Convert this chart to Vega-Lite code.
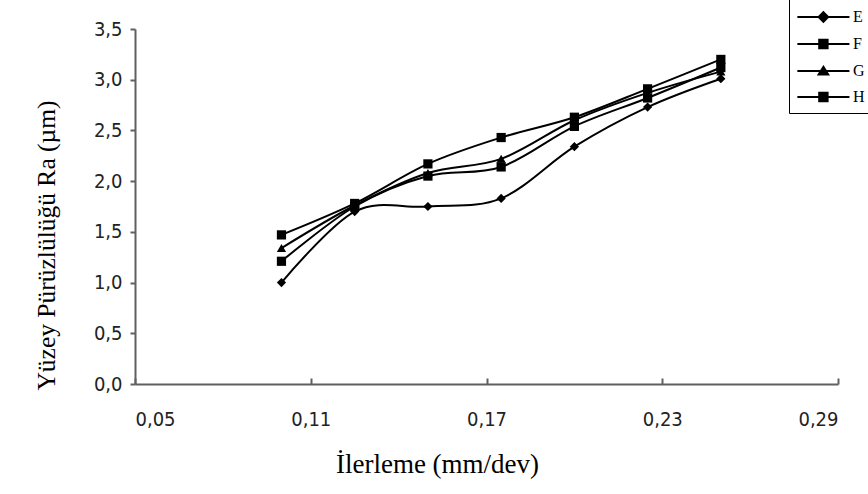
{
  "$schema": "https://vega.github.io/schema/vega-lite/v6.json",
  "width": 703,
  "height": 355,
  "autosize": "none",
  "padding": {"left": 135, "top": 29, "right": 30, "bottom": 110},
  "background": "white",
  "config": {"view": {"stroke": null}, "font": "Liberation Serif"},
  "data": {
    "values": [
      {"f": 0.1, "ra": 1.00, "s": "E"},
      {"f": 0.125, "ra": 1.70, "s": "E"},
      {"f": 0.15, "ra": 1.75, "s": "E"},
      {"f": 0.175, "ra": 1.83, "s": "E"},
      {"f": 0.2, "ra": 2.34, "s": "E"},
      {"f": 0.225, "ra": 2.73, "s": "E"},
      {"f": 0.25, "ra": 3.01, "s": "E"},
      {"f": 0.1, "ra": 1.21, "s": "F"},
      {"f": 0.125, "ra": 1.75, "s": "F"},
      {"f": 0.15, "ra": 2.05, "s": "F"},
      {"f": 0.175, "ra": 2.14, "s": "F"},
      {"f": 0.2, "ra": 2.54, "s": "F"},
      {"f": 0.225, "ra": 2.82, "s": "F"},
      {"f": 0.25, "ra": 3.12, "s": "F"},
      {"f": 0.1, "ra": 1.34, "s": "G"},
      {"f": 0.125, "ra": 1.76, "s": "G"},
      {"f": 0.15, "ra": 2.08, "s": "G"},
      {"f": 0.175, "ra": 2.22, "s": "G"},
      {"f": 0.2, "ra": 2.60, "s": "G"},
      {"f": 0.225, "ra": 2.87, "s": "G"},
      {"f": 0.25, "ra": 3.08, "s": "G"},
      {"f": 0.1, "ra": 1.47, "s": "H"},
      {"f": 0.125, "ra": 1.78, "s": "H"},
      {"f": 0.15, "ra": 2.17, "s": "H"},
      {"f": 0.175, "ra": 2.43, "s": "H"},
      {"f": 0.2, "ra": 2.63, "s": "H"},
      {"f": 0.225, "ra": 2.91, "s": "H"},
      {"f": 0.25, "ra": 3.20, "s": "H"}
    ]
  },
  "encoding": {
    "x": {
      "field": "f", "type": "quantitative",
      "scale": {"domain": [0.05, 0.29], "nice": false, "zero": false},
      "axis": {
        "values": [0.05, 0.11, 0.17, 0.23, 0.29],
        "labelExpr": "replace(format(datum.value, '.2f'), '.', ',')",
        "grid": false,
        "domainColor": "#606060", "domainWidth": 2,
        "tickColor": "#606060", "tickWidth": 2, "tickSize": -6,
        "labelFont": "Liberation Sans Narrow, DejaVu Sans Condensed, Liberation Sans", "labelFontSize": 20, "labelColor": "#222222",
        "labelPadding": 31,
        "title": "İlerleme (mm/dev)",
        "titleFont": "Liberation Serif", "titleFontSize": 27, "titleFontWeight": "normal", "titleColor": "#000000",
        "titleX": 302, "titleY": 80, "titleAlign": "center", "titleBaseline": "middle"
      }
    },
    "y": {
      "field": "ra", "type": "quantitative",
      "scale": {"domain": [0, 3.5], "nice": false},
      "axis": {
        "values": [0, 0.5, 1, 1.5, 2, 2.5, 3, 3.5],
        "labelExpr": "replace(format(datum.value, '.1f'), '.', ',')",
        "grid": false,
        "domainColor": "#606060", "domainWidth": 2,
        "tickColor": "#606060", "tickWidth": 2, "tickSize": 5,
        "labelFont": "Liberation Sans Narrow, DejaVu Sans Condensed, Liberation Sans", "labelFontSize": 20, "labelColor": "#222222",
        "labelPadding": 8,
        "title": "Yüzey Pürüzlülüğü Ra (µm)",
        "titleFont": "Liberation Serif", "titleFontSize": 25.5, "titleFontWeight": "normal", "titleColor": "#000000",
        "titleX": -89, "titleY": 216, "titleAngle": -90, "titleAlign": "center", "titleBaseline": "middle"
      }
    }
  },
  "layer": [
    {
      "mark": {"type": "line", "interpolate": "cardinal", "color": "black", "strokeWidth": 2},
      "encoding": {"detail": {"field": "s"}}
    },
    {
      "mark": {"type": "point", "filled": true, "color": "black", "opacity": 1, "size": 85},
      "encoding": {
        "shape": {
          "field": "s",
          "scale": {"domain": ["E", "F", "G", "H"], "range": ["diamond", "square", "triangle-up", "square"]},
          "legend": null
        }
      }
    },
    {
      "mark": {"type": "point", "filled": false, "color": "black", "opacity": 0, "size": 576, "strokeWidth": 2},
      "encoding": {
        "shape": {
          "field": "s",
          "scale": {
            "domain": ["E", "F", "G", "H"],
            "range": [
              "M-0.97,0H3.37M1.2,-0.4L1.6,0L1.2,0.4L0.8,0ZM1.2,-0.25L1.45,0L1.2,0.25L0.95,0ZM1.2,-0.1L1.3,0L1.2,0.1L1.1,0Z",
              "M-0.97,0H3.37M0.85,-0.35H1.55V0.35H0.85ZM1.0,-0.2H1.4V0.2H1.0ZM1.15,-0.05H1.25V0.05H1.15Z",
              "M-0.97,0H3.37M1.2,-0.35L1.6,0.3H0.8ZM1.2,-0.133L1.4,0.192H1.0ZM1.2,0.018L1.26,0.116H1.14Z",
              "M-0.97,0H3.37M0.85,-0.35H1.55V0.35H0.85ZM1.0,-0.2H1.4V0.2H1.0ZM1.15,-0.05H1.25V0.05H1.15Z"
            ]
          },
          "legend": {
            "title": null,
            "orient": "none",
            "legendX": 654,
            "legendY": -32,
            "padding": 7,
            "strokeColor": "black",
            "fillColor": "white",
            "symbolSize": 576,
            "symbolOpacity": 1,
            "symbolStrokeColor": "black",
            "symbolStrokeWidth": 2,
            "labelFont": "Liberation Serif",
            "labelFontSize": 16,
            "labelColor": "black",
            "labelOffset": 31,
            "rowPadding": 5,
            "encode": {
              "symbols": {"update": {"opacity": {"value": 1}, "stroke": {"value": "black"}, "strokeWidth": {"value": 2}}}
            }
          }
        }
      }
    }
  ],
  "resolve": {"scale": {"shape": "independent"}}
}
